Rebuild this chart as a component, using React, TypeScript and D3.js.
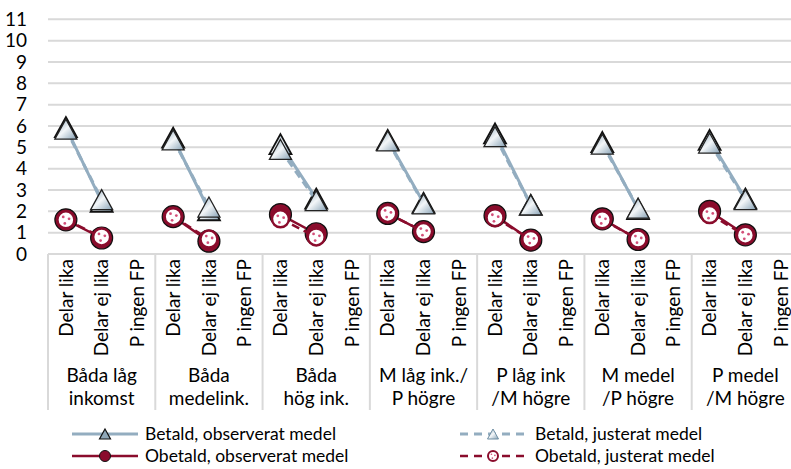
import React from "react";
import * as d3 from "d3";

const groupLabels: string[][] = [
  ["Båda låg", "inkomst"],
  ["Båda", "medelink."],
  ["Båda", "hög ink."],
  ["M låg ink./", "P högre"],
  ["P låg ink", "/M högre"],
  ["M medel", "/P högre"],
  ["P medel", "/M högre"],
];
const categories = ["Delar lika", "Delar ej lika", "P ingen FP"];
const yTicks = [0, 1, 2, 3, 4, 5, 6, 7, 8, 9, 10, 11];

const betaldObserverat: (number | null)[] = [
  5.95, 2.45, null, 5.45, 2.05, null, 5.15, 2.6, null, 5.35, 2.4, null,
  5.65, 2.3, null, 5.25, 2.1, null, 5.35, 2.6, null,
];
const betaldJusterat: (number | null)[] = [
  5.85, 2.55, null, 5.35, 2.2, null, 4.9, 2.5, null, 5.3, 2.35, null,
  5.5, 2.3, null, 5.15, 2.15, null, 5.2, 2.55, null,
];
const obetaldObserverat: (number | null)[] = [
  1.6, 0.75, null, 1.75, 0.6, null, 1.85, 0.95, null, 1.9, 1.05, null,
  1.8, 0.65, null, 1.65, 0.68, null, 2.0, 0.9, null,
];
const obetaldJusterat: (number | null)[] = [
  1.6, 0.8, null, 1.75, 0.7, null, 1.65, 0.8, null, 1.9, 1.05, null,
  1.7, 0.68, null, 1.6, 0.7, null, 1.85, 0.88, null,
];

const legendItems = [
  "Betald,  observerat medel",
  "Betald,  justerat medel",
  "Obetald,  observerat medel",
  "Obetald,  justerat medel",
];

const W = 791;
const H = 469;
const FONT = "Lato, 'Open Sans', sans-serif";
const FS = 19;
const LFS = 17.5;
const BLUE = "#93adc0";
const RED = "#8a0c2c";
const GRID = "#d9d9d9";

const plotLeft = 48;
const plotRight = 799;
const yTop = 19.3;
const yBottom = 254;

function triPath(w: number, h: number) {
  return `M0,${-h / 2}L${w / 2},${h / 2}L${-w / 2},${h / 2}Z`;
}

function AdjCircle({ cx, cy, r, sw = 2.5 }: { cx: number; cy: number; r: number; sw?: number }) {
  const s = r / 8;
  return (
    <g transform={`translate(${cx},${cy})`}>
      <circle r={r} fill="#ffffff" stroke={RED} strokeWidth={sw} />
      <circle cx={-2.5 * s} cy={-2.8 * s} r={1.3 * s} fill="#d3507a" />
      <circle cx={3 * s} cy={-1 * s} r={1.3 * s} fill="#d3507a" />
      <circle cx={-1 * s} cy={3.4 * s} r={1.3 * s} fill="#d3507a" />
    </g>
  );
}

export default function App() {
  const idx = d3.range(groupLabels.length * categories.length);
  const x = d3
    .scaleBand<number>()
    .domain(idx)
    .range([plotLeft, plotRight])
    .padding(0);
  const y = d3.scaleLinear().domain([0, 11]).range([yBottom, yTop]);
  const groupW = x.bandwidth() * categories.length;
  const cx = (i: number) => (x(i) as number) + x.bandwidth() / 2;

  const line = d3
    .line<number | null>()
    .defined((d) => d != null)
    .x((_, i) => cx(i))
    .y((d) => y(d as number));

  const pts = (arr: (number | null)[]) =>
    arr
      .map((v, i) => ({ v, i }))
      .filter((d) => d.v != null) as { v: number; i: number }[];

  const triBig = triPath(22, 20);
  const triSmall = triPath(11, 10);

  const r1 = 434;
  const r2 = 456;

  return (
    <svg width={W} height={H} style={{ position: "absolute", left: 0, top: 0, background: "#fff" }}>
      <defs>
        <linearGradient id="triGrad" x1="0" y1="0" x2="1" y2="1">
          <stop offset="0" stopColor="#86a1b5" />
          <stop offset="0.5" stopColor="#f3f6f8" />
          <stop offset="1" stopColor="#86a1b5" />
        </linearGradient>
        <clipPath id="clip">
          <rect x={0} y={0} width={W} height={H} />
        </clipPath>
      </defs>
      <rect x={0} y={0} width={W} height={H} fill="#fff" />

      {yTicks.map((t) => (
        <line key={t} x1={plotLeft} x2={plotRight} y1={y(t)} y2={y(t)} stroke={GRID} strokeWidth={2} />
      ))}
      {yTicks.map((t) => (
        <text key={"l" + t} x={27} y={y(t)} dy="0.35em" textAnchor="end" fontFamily={FONT} fontSize={FS} fill="#000">
          {t}
        </text>
      ))}

      {d3.range(groupLabels.length + 1).map((g) => (
        <line key={"s" + g} x1={plotLeft + g * groupW} x2={plotLeft + g * groupW} y1={yBottom} y2={410} stroke={GRID} strokeWidth={2} />
      ))}

      {idx.map((i) => (
        <text
          key={"c" + i}
          transform={`translate(${cx(i)},${yBottom + 5}) rotate(-90)`}
          dy="0.35em"
          textAnchor="end"
          fontFamily={FONT}
          fontSize={FS}
          fill="#000"
        >
          {categories[i % categories.length]}
        </text>
      ))}

      {groupLabels.map((lab, g) => (
        <text key={"g" + g} textAnchor="middle" fontFamily={FONT} fontSize={FS} fill="#000">
          <tspan x={plotLeft + g * groupW + groupW / 2} y={382}>{lab[0]}</tspan>
          <tspan x={plotLeft + g * groupW + groupW / 2} y={405}>{lab[1]}</tspan>
        </text>
      ))}

      <g clipPath="url(#clip)">
        <path d={line(betaldObserverat) || ""} fill="none" stroke={BLUE} strokeWidth={3} />
        {pts(betaldObserverat).map((d) => (
          <path key={"bo" + d.i} d={triBig} transform={`translate(${cx(d.i)},${y(d.v)})`} fill="url(#triGrad)" stroke="#111" strokeWidth={1.8} />
        ))}
        <path d={line(betaldJusterat) || ""} fill="none" stroke={BLUE} strokeWidth={3} strokeDasharray="8,5" />
        {pts(betaldJusterat).map((d) => (
          <path key={"bj" + d.i} d={triBig} transform={`translate(${cx(d.i)},${y(d.v)})`} fill="url(#triGrad)" stroke="#222" strokeWidth={1.3} />
        ))}
        <path d={line(obetaldObserverat) || ""} fill="none" stroke={RED} strokeWidth={2.5} />
        {pts(obetaldObserverat).map((d) => (
          <circle key={"oo" + d.i} cx={cx(d.i)} cy={y(d.v)} r={11} fill={RED} stroke="#111" strokeWidth={1.2} />
        ))}
        <path d={line(obetaldJusterat) || ""} fill="none" stroke={RED} strokeWidth={2.5} strokeDasharray="8,5" />
        {pts(obetaldJusterat).map((d) => (
          <AdjCircle key={"oj" + d.i} cx={cx(d.i)} cy={y(d.v)} r={8.5} />
        ))}
      </g>

      <g fontFamily={FONT} fontSize={LFS} fill="#000" style={{ whiteSpace: "pre" }}>
        <line x1={72} x2={138} y1={r1} y2={r1} stroke={BLUE} strokeWidth={3} />
        <path d={triSmall} transform={`translate(105,${r1})`} fill="#8fa7b8" stroke="#111" strokeWidth={1.2} />
        <text x={145} y={r1} dy="0.35em">{legendItems[0]}</text>
        <line x1={460} x2={527} y1={r1} y2={r1} stroke={BLUE} strokeWidth={3} strokeDasharray="8,6" />
        <path d={triSmall} transform={`translate(493,${r1})`} fill="url(#triGrad)" stroke="#6f8ea3" strokeWidth={1} />
        <text x={535} y={r1} dy="0.35em">{legendItems[1]}</text>
        <line x1={72} x2={138} y1={r2} y2={r2} stroke={RED} strokeWidth={2.5} />
        <circle cx={105} cy={r2} r={5.5} fill={RED} stroke="#111" strokeWidth={1} />
        <text x={145} y={r2} dy="0.35em">{legendItems[2]}</text>
        <line x1={460} x2={527} y1={r2} y2={r2} stroke={RED} strokeWidth={2.5} strokeDasharray="8,6" />
        <AdjCircle cx={493} cy={r2} r={5} sw={2} />
        <text x={535} y={r2} dy="0.35em">{legendItems[3]}</text>
      </g>
    </svg>
  );
}
